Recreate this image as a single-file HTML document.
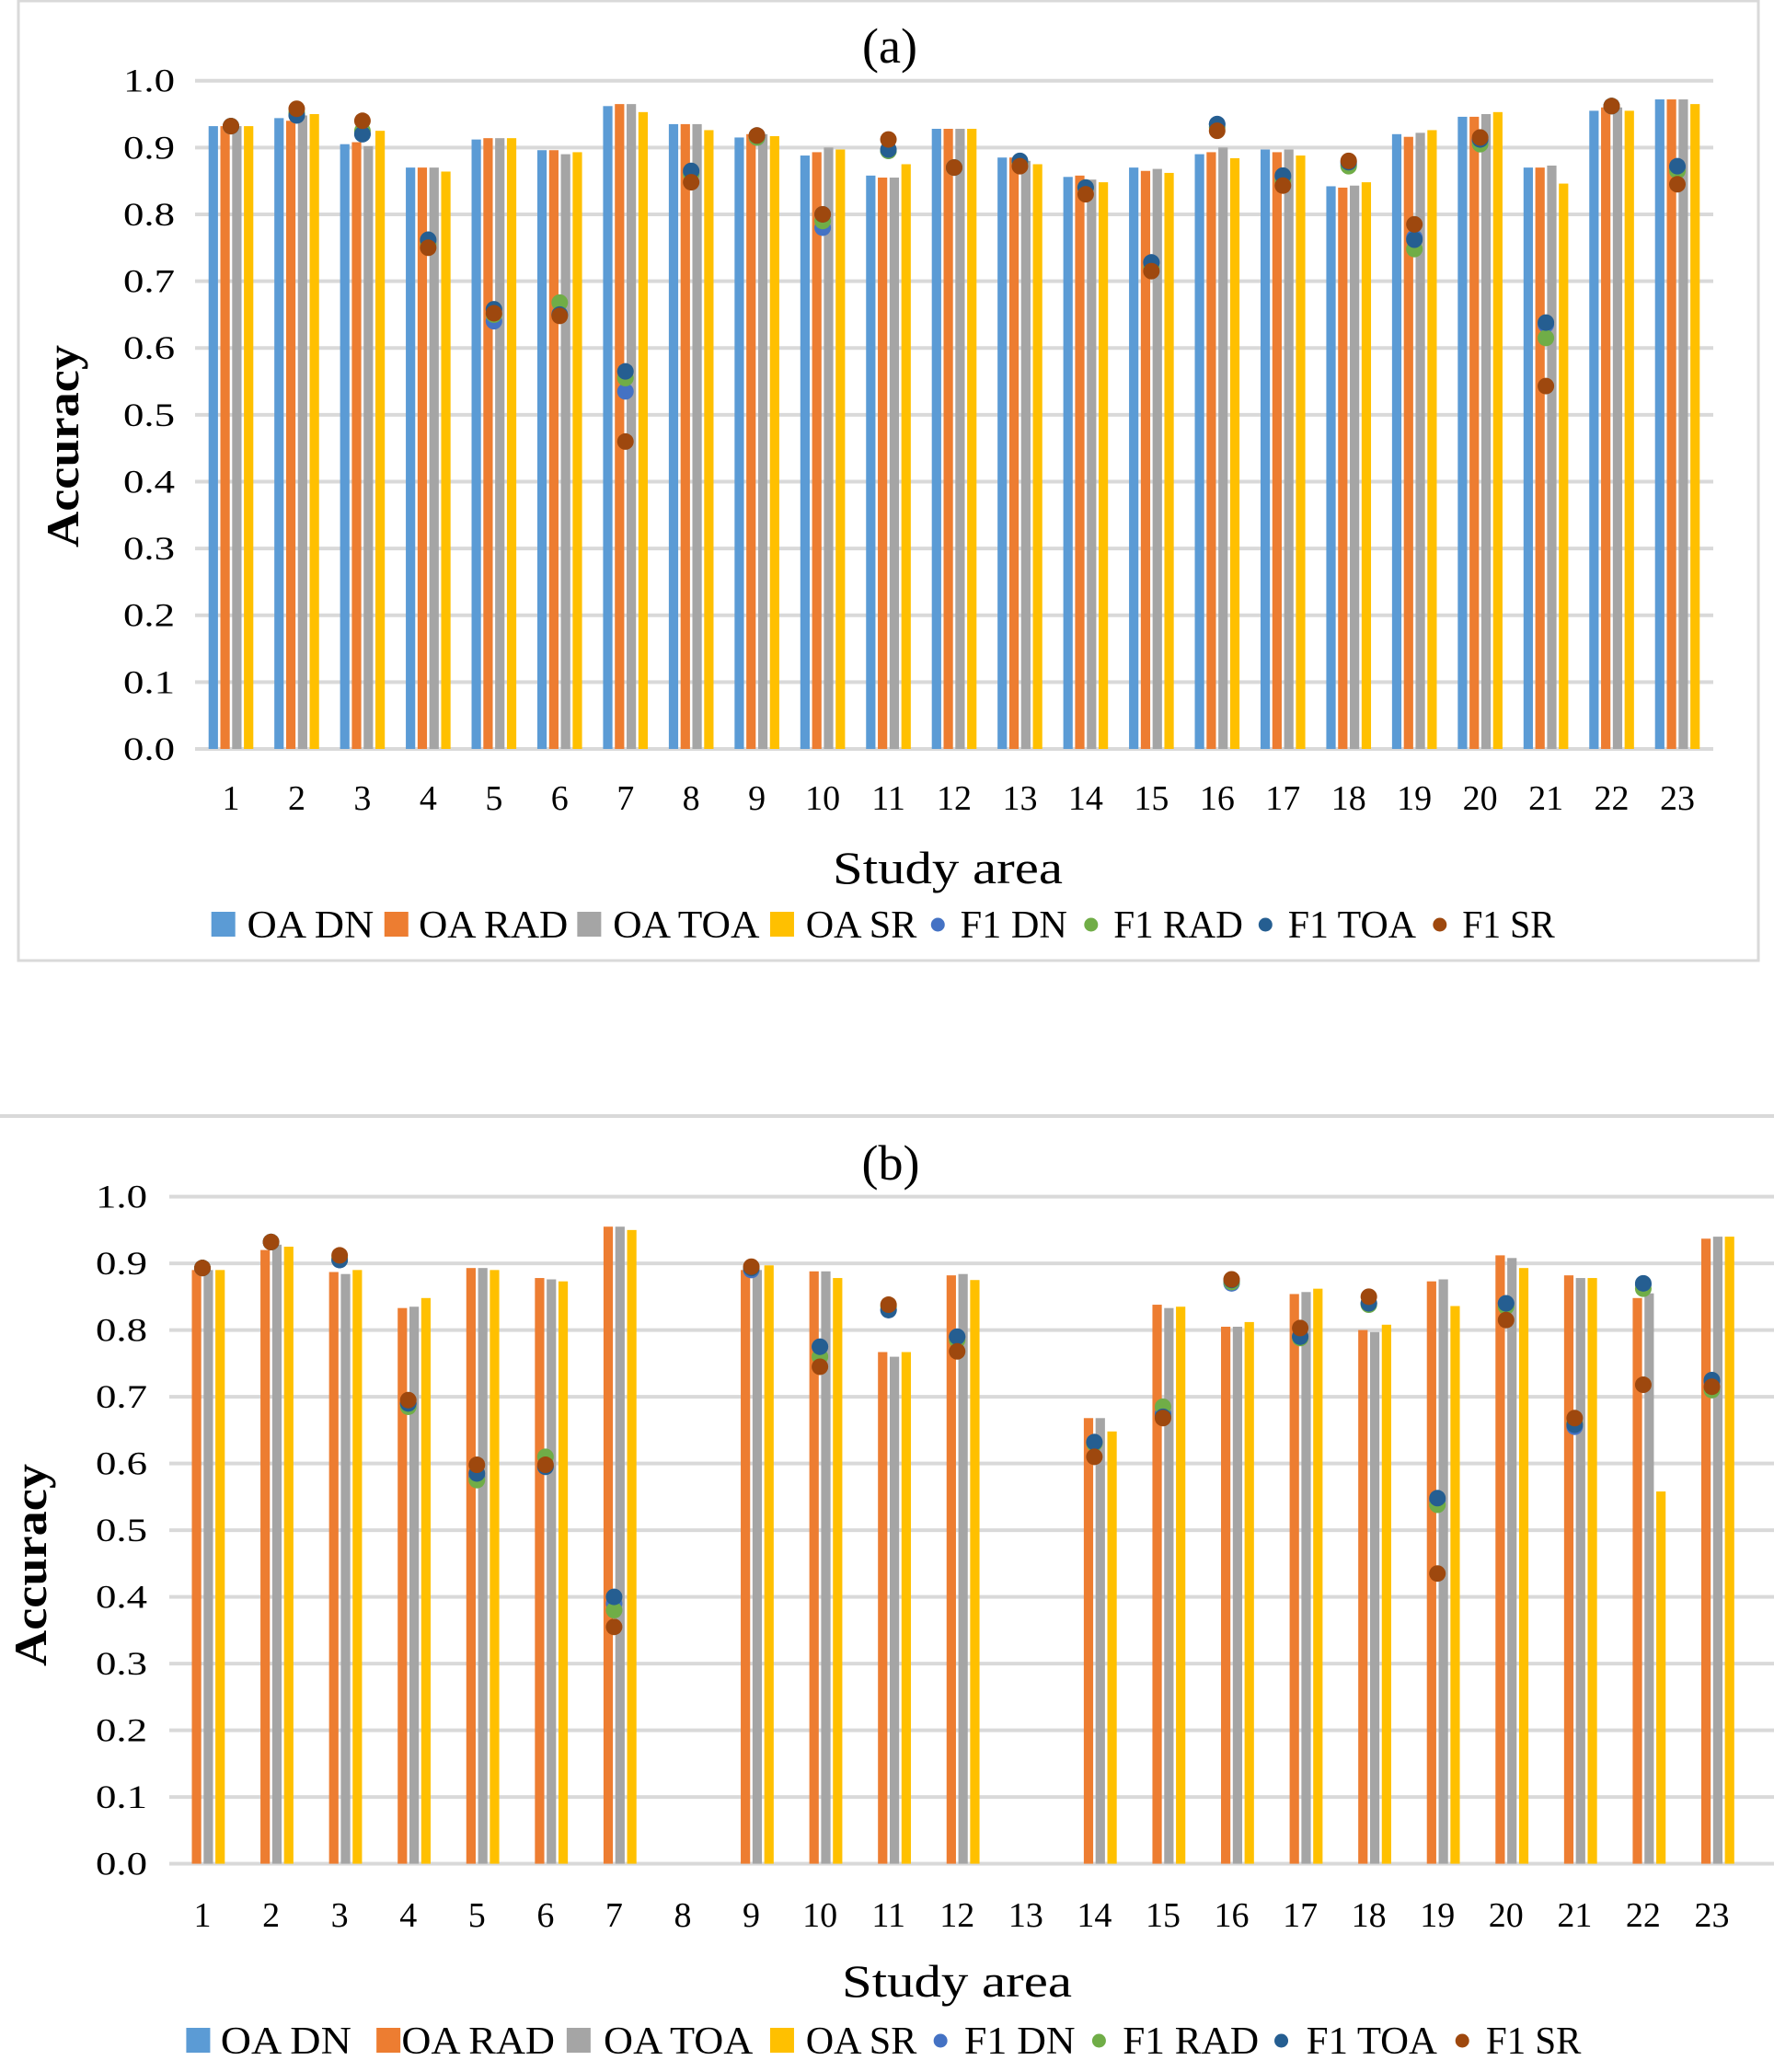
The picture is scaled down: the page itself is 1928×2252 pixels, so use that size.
<!DOCTYPE html>
<html><head><meta charset="utf-8"><style>
html,body{margin:0;padding:0;background:#fff;}
svg{display:block;}
text{font-family:"Liberation Serif",serif;fill:#000;}
</style></head><body>
<svg id="s" width="1928" height="2252" viewBox="0 0 1928 2252" xmlns="http://www.w3.org/2000/svg">
<rect x="20" y="1" width="1891" height="1043" fill="none" stroke="#D9D9D9" stroke-width="3"/>
<line x1="0" y1="1213" x2="1928" y2="1213" stroke="#D9D9D9" stroke-width="4"/>
</svg>
<script>
var NS="http://www.w3.org/2000/svg",S=document.getElementById('s');
function el(t,a,txt){var e=document.createElementNS(NS,t);for(var k in a)e.setAttribute(k,a[k]);if(txt!=null)e.textContent=txt;S.appendChild(e);return e;}
var C=["#5B9BD5","#ED7D31","#A5A5A5","#FFC000"],D=["#4472C4","#70AD47","#255E91","#9E480E"];
var A=[[.932,.932,.932,.932,.932,.932,.932,.932],[.944,.940,.948,.950,.950,.952,.948,.958],[.905,.908,.902,.925,.92,.925,.92,.94],[.870,.870,.870,.864,.76,.755,.762,.75],[.912,.914,.914,.914,.64,.65,.658,.652],[.896,.896,.890,.893,.65,.668,.65,.648],[.962,.965,.965,.953,.535,.555,.565,.46],[.935,.935,.935,.926,.862,.86,.865,.848],[.915,.920,.920,.917,.915,.915,.918,.918],[.888,.893,.900,.897,.78,.79,.80,.80],[.858,.855,.855,.875,.895,.895,.897,.912],[.928,.928,.928,.928,.87,.87,.87,.87],[.885,.885,.880,.875,.878,.878,.88,.872],[.856,.858,.852,.848,.84,.84,.84,.83],[.870,.865,.868,.862,.728,.72,.728,.715],[.890,.893,.900,.884,.935,.93,.935,.925],[.897,.893,.897,.888,.855,.85,.858,.843],[.842,.840,.843,.848,.875,.872,.878,.88],[.920,.916,.922,.926,.765,.748,.762,.785],[.946,.946,.950,.953,.91,.905,.912,.915],[.870,.870,.873,.846,.635,.615,.638,.543],[.955,.960,.960,.955,.962,.962,.962,.962],[.972,.972,.972,.965,.87,.865,.872,.845]];
var B=[[0,.890,.890,.890,.893,.893,.893,.893],[0,.920,.928,.925,.932,.932,.932,.932],[0,.887,.884,.890,.905,.908,.905,.912],[0,.833,.835,.848,.69,.685,.69,.695],[0,.893,.893,.890,.58,.575,.585,.598],[0,.878,.876,.873,.595,.61,.595,.598],[0,.955,.955,.950,.39,.38,.40,.355],null,[0,.890,.890,.897,.89,.893,.893,.895],[0,.888,.888,.878,.775,.76,.775,.745],[0,.767,.760,.767,.83,.835,.83,.838],[0,.882,.884,.875,.79,.785,.79,.768],null,[0,.668,.668,.648,.632,.63,.632,.61],[0,.838,.833,.835,.675,.685,.67,.668],[0,.805,.805,.812,.87,.872,.875,.876],[0,.854,.857,.862,.79,.788,.79,.803],[0,.800,.797,.808,.84,.838,.84,.85],[0,.873,.876,.836,.545,.538,.548,.435],[0,.912,.908,.893,.84,.835,.84,.815],[0,.882,.878,.878,.655,.66,.658,.668],[0,.848,.855,.558,.868,.862,.87,.718],[0,.937,.940,.940,.722,.71,.725,.715]];
function chart(o,data){
 var h=o.y0-o.y1;
 for(var i=0;i<=10;i++){var y=o.y0-h*i/10;
  el('line',{x1:o.gx1,x2:o.gx2,y1:y,y2:y,stroke:'#D9D9D9','stroke-width':4});
  el('text',{x:o.tx,y:y+12,'text-anchor':'end','font-size':36,textLength:56,lengthAdjust:'spacingAndGlyphs'},(i/10).toFixed(1));}
 var sp=(o.c23-o.c1)/22;
 for(var g=0;g<23;g++){var cx=o.c1+g*sp;
  el('text',{x:cx,y:o.xl,'text-anchor':'middle','font-size':38},String(g+1));
  var d=data[g];if(!d)continue;
  for(var k=0;k<4;k++){if(!d[k])continue;var x=cx-25.6+k*12.8+1.3;var y=o.y0-h*d[k];
   el('rect',{x:x,y:y,width:10.2,height:o.y0-y,fill:C[k]});}
 }
 for(var g=0;g<23;g++){var d=data[g];if(!d)continue;var cx=o.c1+g*sp;
  for(var k=0;k<4;k++)el('circle',{cx:cx,cy:o.y0-h*d[4+k],r:9,fill:D[k]});}
 el('text',{x:o.tcx,y:o.ty,'text-anchor':'middle','font-size':54},o.title);
 el('text',{x:o.sax,y:o.say,'text-anchor':'middle','font-size':50,textLength:250,lengthAdjust:'spacingAndGlyphs'},'Study area');
 el('text',{x:0,y:0,'text-anchor':'middle','font-size':50,'font-weight':'bold',transform:'translate('+o.ax+','+o.ay+') rotate(-90)',textLength:220,lengthAdjust:'spacingAndGlyphs'},'Accuracy');
 var L=o.leg,labs=["OA DN","OA RAD","OA TOA","OA SR","F1 DN","F1 RAD","F1 TOA","F1 SR"];
 for(var i=0;i<8;i++){var m=L[i];
  if(i<4)el('rect',{x:m[0],y:o.ly-14,width:26,height:27,fill:C[i]});
  else el('circle',{cx:m[0],cy:o.ly,r:7.5,fill:D[i-4]});
  el('text',{x:m[1],y:o.ly+14,'font-size':42,textLength:m[2]-m[1],lengthAdjust:'spacingAndGlyphs'},labs[i]);}
}
var f=1.4356;
chart({y1:87.7,y0:814,gx1:212,gx2:1862,tx:190,c1:251,c23:1823,xl:880,title:'(a)',tcx:967,ty:68,sax:1030,say:960,ax:85,ay:485,ly:1005,
 leg:[[160,187,283],[291,317,430],[437,464,575],[583,610,694],[710,727,808],[826,843,941],[958,975,1072],[1090,1107,1177]].map(function(m){return [m[0]*f,m[1]*f,m[2]*f];})},A);
chart({y1:1300.6,y0:2025.6,gx1:184,gx2:1928,tx:160,c1:220,c23:1860.5,xl:2094,title:'(b)',tcx:968,ty:1282,sax:1040,say:2170,ax:50,ay:1701,ly:2218,
 leg:[[141,167,266],[285,304,420],[429,457,570],[583,610,694],[712,730,814],[832,850,953],[970,989,1088],[1107,1125,1197]].map(function(m){return [m[0]*f,m[1]*f,m[2]*f];})},B);
</script>
</body></html>
